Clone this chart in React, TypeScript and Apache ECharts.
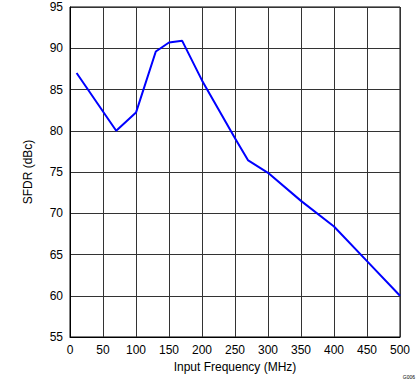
import React, { useEffect, useRef } from "react";
import * as echarts from "echarts";

const freqMHz = [10, 70, 100, 130, 150, 170, 200, 250, 270, 300, 350, 400, 450, 500];
const sfdrDbc = [87.0, 80.0, 82.2, 89.6, 90.7, 90.9, 86.1, 79.1, 76.4, 74.9, 71.5, 68.4, 64.2, 60.0];

export default function App() {
  const ref = useRef<HTMLDivElement>(null);
  useEffect(() => {
    if (!ref.current) return;
    const chart = echarts.init(ref.current, null, { renderer: "svg" });
    const font = "Liberation Sans, Arial, sans-serif";
    chart.setOption({
      animation: false,
      backgroundColor: "#fff",
      grid: { left: 70, right: 19, top: 7, bottom: 45, show: true, borderColor: "#000", borderWidth: 1 },
      xAxis: {
        type: "value",
        min: 0,
        max: 500,
        interval: 50,
        name: "Input Frequency (MHz)",
        nameLocation: "middle",
        nameGap: 21,
        nameTextStyle: { fontFamily: font, fontSize: 12, color: "#000" },
        axisLine: { show: true, lineStyle: { color: "#000" } },
        axisTick: { show: false },
        axisLabel: { fontFamily: font, fontSize: 12, color: "#000", margin: 7 },
        splitLine: { show: true, lineStyle: { color: "#333", width: 1 } },
      },
      yAxis: {
        type: "value",
        min: 55,
        max: 95,
        interval: 5,
        name: "SFDR (dBc)",
        nameLocation: "middle",
        nameGap: 36,
        nameTextStyle: { fontFamily: font, fontSize: 12, color: "#000" },
        axisLine: { show: true, lineStyle: { color: "#000" } },
        axisTick: { show: false },
        axisLabel: { fontFamily: font, fontSize: 12, color: "#000", margin: 7 },
        splitLine: { show: true, lineStyle: { color: "#333", width: 1 } },
      },
      graphic: [
        {
          type: "text",
          right: 4,
          bottom: 3,
          style: { text: "G006", fontFamily: font, fontSize: 5, fill: "#000" },
        },
      ],
      series: [
        {
          type: "line",
          data: freqMHz.map((f, i) => [f, sfdrDbc[i]]),
          showSymbol: false,
          lineStyle: { color: "#0000ff", width: 2 },
          itemStyle: { color: "#0000ff" },
        },
      ],
    });
    return () => chart.dispose();
  }, []);
  return <div ref={ref} style={{ width: 419, height: 382, position: "absolute", left: 0, top: 0 }} />;
}
